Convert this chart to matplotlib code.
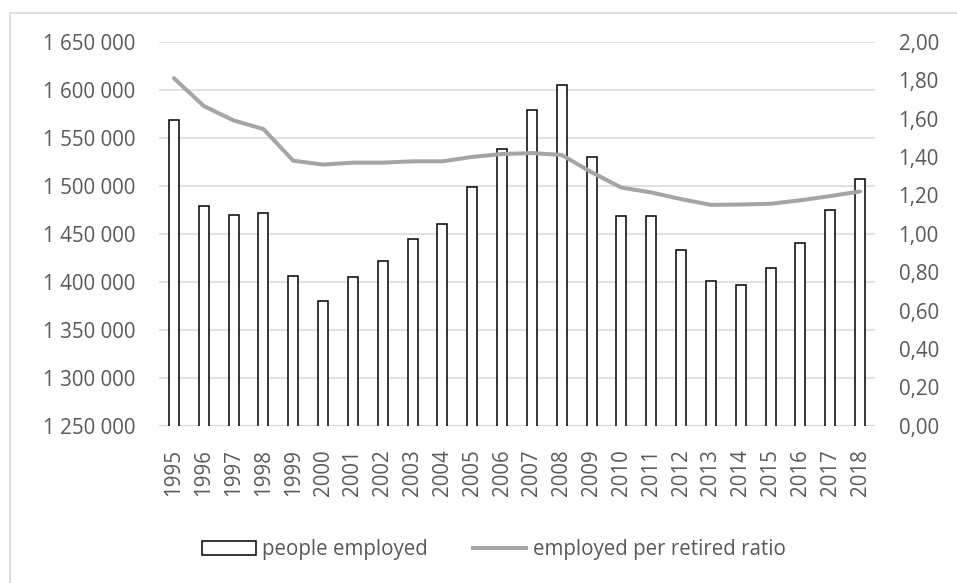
import numpy as np
import matplotlib.pyplot as plt
from matplotlib.lines import Line2D
from matplotlib.patches import Patch
from matplotlib.ticker import FuncFormatter, MultipleLocator

# values
years = [str(y) for y in range(1995, 2019)]
people_employed = [1568000, 1479000, 1469000, 1472000, 1406000, 1380000,
                   1405000, 1422000, 1444000, 1460000, 1499000, 1538000,
                   1579000, 1605000, 1530000, 1468000, 1468000, 1433000,
                   1401000, 1397000, 1414000, 1440000, 1475000, 1507000]
ratio = [1.81, 1.665, 1.59, 1.545, 1.38, 1.36, 1.37, 1.37, 1.377, 1.377,
         1.40, 1.415, 1.42, 1.41, 1.32, 1.24, 1.215, 1.18, 1.15, 1.152,
         1.156, 1.174, 1.196, 1.22]

TEXT = '#595959'
GRID = '#d9d9d9'
LINE = '#a5a5a5'
FS = 14.8

plt.rcParams['font.family'] = ['Open Sans', 'DejaVu Sans']

W, H = 957, 583
fig = plt.figure(figsize=(W / 100, H / 100), dpi=100)
ax = fig.add_axes([159 / W, (H - 425.7) / H, 716 / W, 384 / H])

x = np.arange(len(years))
ax.bar(x, people_employed, width=0.33, color='white', edgecolor='black',
       linewidth=1.1, zorder=2)
ax.set_xlim(-0.5, len(years) - 0.5)
ax.set_ylim(1250000, 1650000)
ax.yaxis.set_major_locator(MultipleLocator(50000))
ax.yaxis.set_major_formatter(FuncFormatter(lambda v, p: f'{int(v):,}'.replace(',', ' ')))
ax.grid(axis='y', color=GRID, linewidth=1.1, zorder=0)
ax.set_axisbelow(True)
ax.set_xticks(x)
ax.set_xticklabels(years, rotation=90)
for s in ax.spines.values():
    s.set_visible(False)
ax.tick_params(length=0, labelsize=FS, labelcolor=TEXT)
ax.tick_params(axis='y', pad=17)
ax.tick_params(axis='x', pad=17)

ax2 = ax.twinx()
ax2.plot(x, ratio, color=LINE, linewidth=2.9, solid_capstyle='round',
         solid_joinstyle='round', zorder=3)
ax2.set_ylim(0, 2)
ax2.yaxis.set_major_locator(MultipleLocator(0.2))
ax2.yaxis.set_major_formatter(FuncFormatter(lambda v, p: f'{v:.2f}'.replace('.', ',')))
for s in ax2.spines.values():
    s.set_visible(False)
ax2.tick_params(length=0, labelsize=FS, labelcolor=TEXT, pad=17)

# axis line along the bottom
ax.axhline(1250000, color=GRID, linewidth=1.1, zorder=1)

handles = [Patch(facecolor='white', edgecolor='black', linewidth=1.1),
           Line2D([], [], color=LINE, linewidth=2.9)]
fig.legend(handles, ['people employed', 'employed per retired ratio'],
           loc='center', bbox_to_anchor=(494 / W, 1 - 550 / H), ncol=2,
           frameon=False, fontsize=FS, labelcolor=TEXT, handlelength=2.6,
           handleheight=0.65, handletextpad=0.3, columnspacing=2.2)

# chart border (cropped at right and bottom)
fig.add_artist(Line2D([10 / W, 1], [1 - 12.7 / H, 1 - 12.7 / H],
                      transform=fig.transFigure, color=GRID, linewidth=1.2))
fig.add_artist(Line2D([10 / W, 10 / W], [0, 1 - 12.7 / H],
                      transform=fig.transFigure, color=GRID, linewidth=1.2))

fig.savefig('out.png', dpi=100)
